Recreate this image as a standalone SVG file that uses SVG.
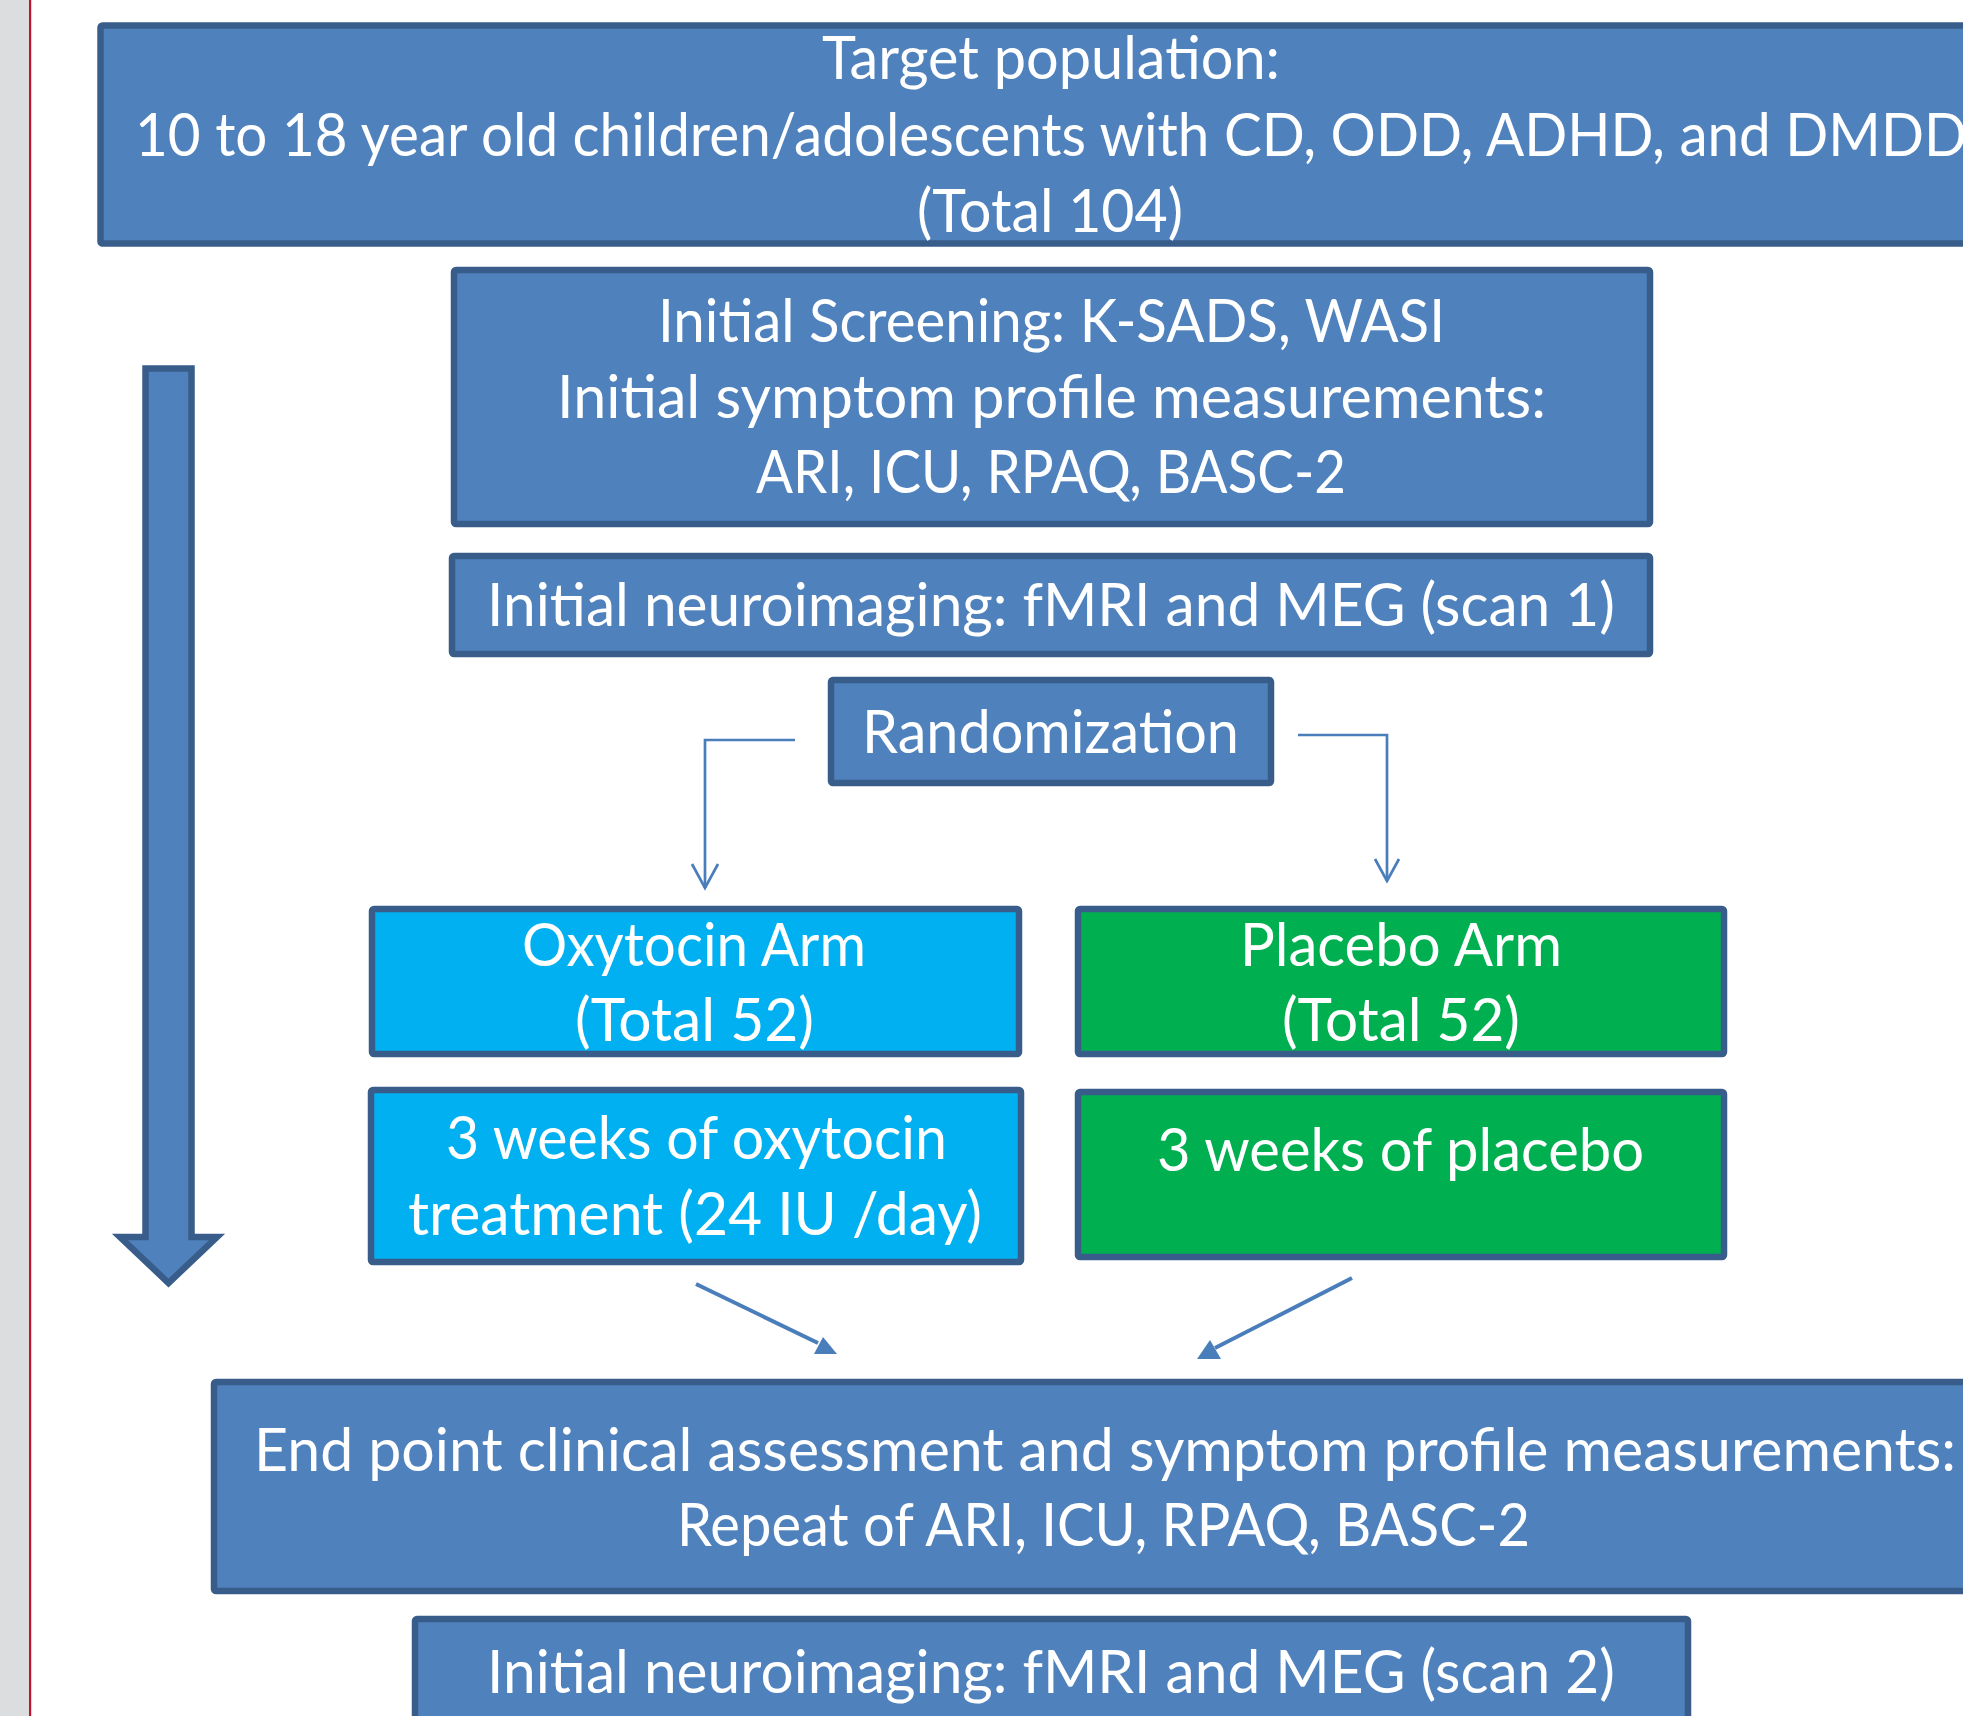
<svg xmlns="http://www.w3.org/2000/svg" width="1963" height="1716" viewBox="0 0 1963 1716">
<style>
.box{fill:#4F81BD;stroke:#385D8A;stroke-width:6.5}
.oxy{fill:#00B0F0;stroke:#385D8A;stroke-width:6.5}
.plc{fill:#00B050;stroke:#385D8A;stroke-width:6.5}
.t{font-family:Lato,"Liberation Sans",sans-serif;font-size:60px;fill:#FFFFFF}
.conn{fill:none;stroke:#4A7EBB;stroke-width:2.7}
.diag{fill:none;stroke:#4A7EBB;stroke-width:4}
.head{fill:#4A7EBB}
</style>
<rect x="0" y="0" width="1963" height="1716" fill="#FFFFFF"/>
<rect x="0" y="0" width="29" height="1716" fill="#DCDDDF"/>
<rect x="29" y="0" width="2.2" height="1716" fill="#C0142C"/>

<g id="big-arrow">
<polygon class="box" points="145.5,368.5 191.5,368.5 191.5,1237 217,1237 168.5,1283 120,1237 145.5,1237"/>
</g>

<g id="target">
<rect class="box" x="100.5" y="25.5" width="1900" height="218" rx="2"/>
<text class="t" x="822" y="79" textLength="458" lengthAdjust="spacingAndGlyphs">Target population:</text>
<text class="t" x="135" y="156" textLength="1832" lengthAdjust="spacingAndGlyphs">10 to 18 year old children/adolescents with CD, ODD, ADHD, and DMDD</text>
<text class="t" x="917" y="232" textLength="266" lengthAdjust="spacingAndGlyphs">(Total 104)</text>
</g>

<g id="screening">
<rect class="box" x="454" y="270" width="1196" height="254" rx="2"/>
<text class="t" x="658" y="342" textLength="787" lengthAdjust="spacingAndGlyphs">Initial Screening: K-SADS, WASI</text>
<text class="t" x="557" y="418" textLength="989" lengthAdjust="spacingAndGlyphs">Initial symptom profile measurements:</text>
<text class="t" x="756" y="493" textLength="590" lengthAdjust="spacingAndGlyphs">ARI, ICU, RPAQ, BASC-2</text>
</g>

<g id="neuro1">
<rect class="box" x="452" y="556" width="1198" height="98" rx="2"/>
<text class="t" x="487" y="626" textLength="1128" lengthAdjust="spacingAndGlyphs">Initial neuroimaging: fMRI and MEG (scan 1)</text>
</g>

<g id="randomization">
<rect class="box" x="831" y="680" width="440" height="103" rx="2"/>
<text class="t" x="862" y="753" textLength="377" lengthAdjust="spacingAndGlyphs">Randomization</text>
</g>

<g id="oxytocin-arm">
<rect class="oxy" x="372" y="909" width="647" height="145" rx="2"/>
<text class="t" x="522" y="966" textLength="344" lengthAdjust="spacingAndGlyphs">Oxytocin Arm</text>
<text class="t" x="575" y="1041" textLength="239" lengthAdjust="spacingAndGlyphs">(Total 52)</text>
</g>

<g id="placebo-arm">
<rect class="plc" x="1078" y="909" width="646" height="145" rx="2"/>
<text class="t" x="1240" y="966" textLength="322" lengthAdjust="spacingAndGlyphs">Placebo Arm</text>
<text class="t" x="1282" y="1041" textLength="238" lengthAdjust="spacingAndGlyphs">(Total 52)</text>
</g>

<g id="oxytocin-treatment">
<rect class="oxy" x="371" y="1090" width="650" height="172" rx="2"/>
<text class="t" x="446" y="1159" textLength="501" lengthAdjust="spacingAndGlyphs">3 weeks of oxytocin</text>
<text class="t" x="408" y="1235" textLength="574" lengthAdjust="spacingAndGlyphs">treatment (24 IU /day)</text>
</g>

<g id="placebo-treatment">
<rect class="plc" x="1078" y="1092" width="646" height="165" rx="2"/>
<text class="t" x="1157" y="1171" textLength="487" lengthAdjust="spacingAndGlyphs">3 weeks of placebo</text>
</g>

<g id="endpoint">
<rect class="box" x="214" y="1382" width="1800" height="209" rx="2"/>
<text class="t" x="254" y="1471" textLength="1702" lengthAdjust="spacingAndGlyphs">End point clinical assessment and symptom profile measurements:</text>
<text class="t" x="677" y="1546" textLength="853" lengthAdjust="spacingAndGlyphs">Repeat of ARI, ICU, RPAQ, BASC-2</text>
</g>

<g id="neuro2">
<rect class="box" x="415" y="1619" width="1273" height="200" rx="2"/>
<text class="t" x="487" y="1693" textLength="1128" lengthAdjust="spacingAndGlyphs">Initial neuroimaging: fMRI and MEG (scan 2)</text>
</g>

<g id="connectors">
<polyline class="conn" points="795,740 705,740 705,888"/>
<polyline class="conn" points="692,864 705,888 718,864"/>
<polyline class="conn" points="1298,735 1387,735 1387,881"/>
<polyline class="conn" points="1375,859 1387,881 1399,859"/>
<line class="diag" x1="696" y1="1284" x2="818" y2="1343"/>
<polygon class="head" points="823,1337 837,1354 814,1354"/>
<line class="diag" x1="1352" y1="1278" x2="1215" y2="1348"/>
<polygon class="head" points="1210,1340 1221,1359 1197,1359"/>
</g>
</svg>
